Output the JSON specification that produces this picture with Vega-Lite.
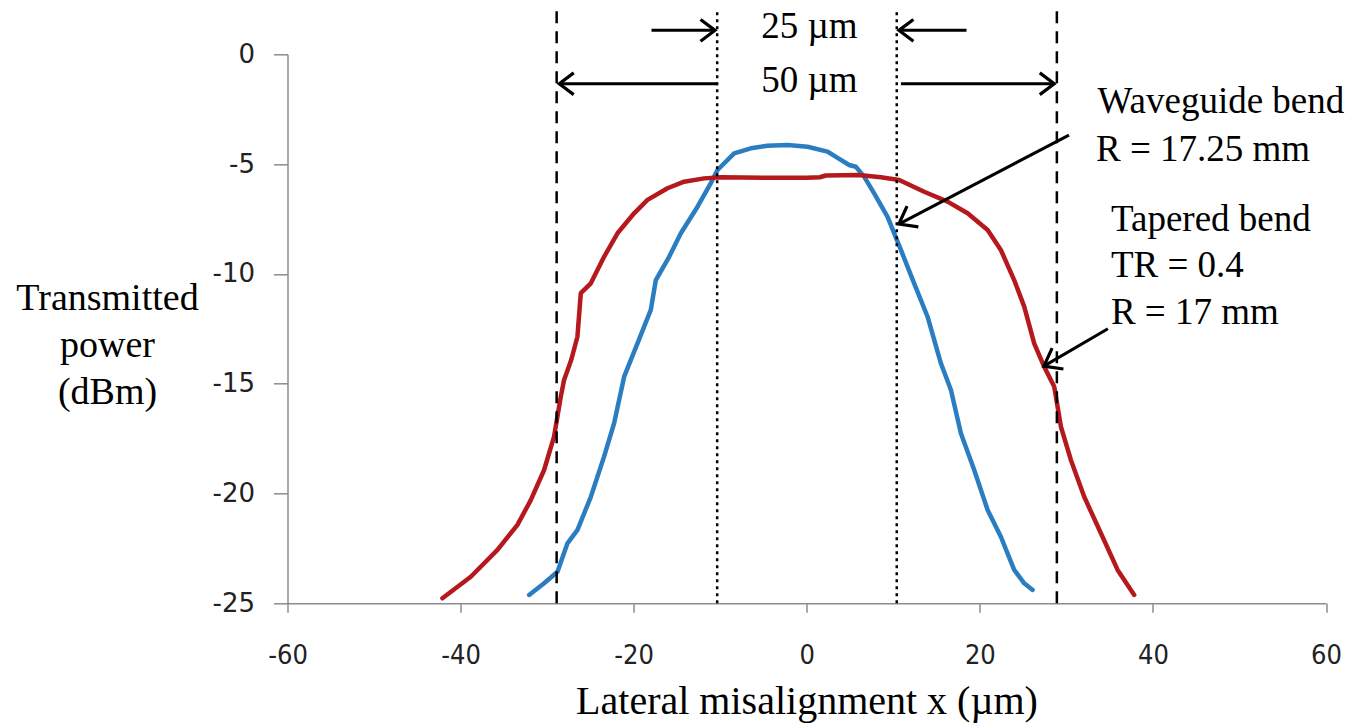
{
  "$schema": "https://vega.github.io/schema/vega-lite/v6.json",
  "autosize": {"type": "none"},
  "padding": {"left": 287.5, "top": 54.3, "right": 35, "bottom": 122.7},
  "width": 1038.5,
  "height": 549,
  "background": "white",
  "config": {
    "view": {"stroke": null},
    "axis": {"titleFont": "Liberation Serif", "titleFontWeight": "normal", "titleColor": "#000"},
    "axisY": {"titleFont": "Liberation Serif", "titleFontSize": 38, "titleFontWeight": "normal"}
  },
  "datasets": {
    "curves": [
      {"series": "Waveguide bend", "x": -32.08, "y": -24.62},
      {"series": "Waveguide bend", "x": -30.35, "y": -24.09},
      {"series": "Waveguide bend", "x": -28.8, "y": -23.56},
      {"series": "Waveguide bend", "x": -27.65, "y": -22.27},
      {"series": "Waveguide bend", "x": -26.49, "y": -21.66},
      {"series": "Waveguide bend", "x": -24.95, "y": -20.15},
      {"series": "Waveguide bend", "x": -23.42, "y": -18.32},
      {"series": "Waveguide bend", "x": -22.26, "y": -16.8},
      {"series": "Waveguide bend", "x": -21.1, "y": -14.68},
      {"series": "Waveguide bend", "x": -19.56, "y": -13.16},
      {"series": "Waveguide bend", "x": -18.02, "y": -11.64},
      {"series": "Waveguide bend", "x": -17.44, "y": -10.28},
      {"series": "Waveguide bend", "x": -15.9, "y": -9.22},
      {"series": "Waveguide bend", "x": -14.55, "y": -8.15},
      {"series": "Waveguide bend", "x": -12.62, "y": -6.94},
      {"series": "Waveguide bend", "x": -11.2, "y": -5.95},
      {"series": "Waveguide bend", "x": -10.31, "y": -5.27},
      {"series": "Waveguide bend", "x": -8.39, "y": -4.51},
      {"series": "Waveguide bend", "x": -6.46, "y": -4.28},
      {"series": "Waveguide bend", "x": -4.53, "y": -4.16},
      {"series": "Waveguide bend", "x": -2.22, "y": -4.13},
      {"series": "Waveguide bend", "x": 0.09, "y": -4.21},
      {"series": "Waveguide bend", "x": 2.4, "y": -4.43},
      {"series": "Waveguide bend", "x": 3.94, "y": -4.81},
      {"series": "Waveguide bend", "x": 4.9, "y": -5.04},
      {"series": "Waveguide bend", "x": 5.67, "y": -5.12},
      {"series": "Waveguide bend", "x": 6.63, "y": -5.57},
      {"series": "Waveguide bend", "x": 7.79, "y": -6.33},
      {"series": "Waveguide bend", "x": 9.34, "y": -7.4},
      {"series": "Waveguide bend", "x": 10.88, "y": -8.91},
      {"series": "Waveguide bend", "x": 12.41, "y": -10.43},
      {"series": "Waveguide bend", "x": 13.96, "y": -11.95},
      {"series": "Waveguide bend", "x": 15.5, "y": -14.07},
      {"series": "Waveguide bend", "x": 16.66, "y": -15.29},
      {"series": "Waveguide bend", "x": 17.81, "y": -17.26},
      {"series": "Waveguide bend", "x": 19.35, "y": -18.93},
      {"series": "Waveguide bend", "x": 20.9, "y": -20.75},
      {"series": "Waveguide bend", "x": 22.43, "y": -21.97},
      {"series": "Waveguide bend", "x": 23.97, "y": -23.48},
      {"series": "Waveguide bend", "x": 25.13, "y": -24.09},
      {"series": "Waveguide bend", "x": 26.1, "y": -24.39},
      {"series": "Tapered bend", "x": -42.1, "y": -24.77},
      {"series": "Tapered bend", "x": -38.82, "y": -23.79},
      {"series": "Tapered bend", "x": -35.74, "y": -22.57},
      {"series": "Tapered bend", "x": -33.43, "y": -21.43},
      {"series": "Tapered bend", "x": -31.89, "y": -20.3},
      {"series": "Tapered bend", "x": -30.35, "y": -18.93},
      {"series": "Tapered bend", "x": -29.2, "y": -17.41},
      {"series": "Tapered bend", "x": -28.42, "y": -15.59},
      {"series": "Tapered bend", "x": -28.04, "y": -14.83},
      {"series": "Tapered bend", "x": -27.2, "y": -13.9},
      {"series": "Tapered bend", "x": -26.5, "y": -12.86},
      {"series": "Tapered bend", "x": -26.11, "y": -10.88},
      {"series": "Tapered bend", "x": -24.95, "y": -10.43},
      {"series": "Tapered bend", "x": -23.42, "y": -9.22},
      {"series": "Tapered bend", "x": -21.87, "y": -8.15},
      {"series": "Tapered bend", "x": -19.95, "y": -7.24},
      {"series": "Tapered bend", "x": -18.4, "y": -6.63},
      {"series": "Tapered bend", "x": -16.09, "y": -6.1},
      {"series": "Tapered bend", "x": -14.17, "y": -5.8},
      {"series": "Tapered bend", "x": -11.86, "y": -5.65},
      {"series": "Tapered bend", "x": -9.93, "y": -5.6},
      {"series": "Tapered bend", "x": -5.0, "y": -5.62},
      {"series": "Tapered bend", "x": 0.0, "y": -5.62},
      {"series": "Tapered bend", "x": 1.5, "y": -5.6},
      {"series": "Tapered bend", "x": 2.2, "y": -5.52},
      {"series": "Tapered bend", "x": 6.0, "y": -5.5},
      {"series": "Tapered bend", "x": 8.56, "y": -5.6},
      {"series": "Tapered bend", "x": 10.68, "y": -5.72},
      {"series": "Tapered bend", "x": 13.57, "y": -6.26},
      {"series": "Tapered bend", "x": 16.27, "y": -6.71},
      {"series": "Tapered bend", "x": 18.59, "y": -7.24},
      {"series": "Tapered bend", "x": 20.9, "y": -8.0},
      {"series": "Tapered bend", "x": 22.43, "y": -8.91},
      {"series": "Tapered bend", "x": 23.97, "y": -10.28},
      {"series": "Tapered bend", "x": 25.13, "y": -11.49},
      {"series": "Tapered bend", "x": 26.28, "y": -13.16},
      {"series": "Tapered bend", "x": 27.44, "y": -14.23},
      {"series": "Tapered bend", "x": 28.6, "y": -15.14},
      {"series": "Tapered bend", "x": 29.37, "y": -16.96},
      {"series": "Tapered bend", "x": 30.52, "y": -18.47},
      {"series": "Tapered bend", "x": 32.06, "y": -20.15},
      {"series": "Tapered bend", "x": 33.99, "y": -21.81},
      {"series": "Tapered bend", "x": 35.92, "y": -23.48},
      {"series": "Tapered bend", "x": 37.84, "y": -24.62}
    ],
    "vlines": [
      {"x": -28.9, "kind": "dashed"},
      {"x": 28.9, "kind": "dashed"},
      {"x": -10.35, "kind": "dotted"},
      {"x": 10.4, "kind": "dotted"}
    ],
    "arrows": [
      {"x1": -17.94, "y1": 1.09, "x2": -10.6, "y2": 1.09, "dir": "right"},
      {"x1": 18.46, "y1": 1.09, "x2": 10.65, "y2": 1.09, "dir": "left"},
      {"x1": -10.33, "y1": -1.34, "x2": -28.6, "y2": -1.34, "dir": "left"},
      {"x1": 10.88, "y1": -1.34, "x2": 28.6, "y2": -1.34, "dir": "right"},
      {"x1": 30.3, "y1": -3.68, "x2": 10.64, "y2": -7.73, "dir": "diag"},
      {"x1": 34.8, "y1": -12.5, "x2": 27.4, "y2": -14.2, "dir": "diag"}
    ],
    "centerText": [
      {"x": 0.3, "y": 0.74, "label": "25 µm"},
      {"x": 0.3, "y": -1.72, "label": "50 µm"}
    ],
    "leftText": [
      {"x": 33.61, "y": -2.69, "label": "Waveguide bend"},
      {"x": 33.42, "y": -4.85, "label": "R = 17.25 mm"},
      {"x": 35.15, "y": -8.03, "label": "Tapered bend"},
      {"x": 35.15, "y": -10.15, "label": "TR = 0.4"},
      {"x": 35.15, "y": -12.28, "label": "R = 17 mm"}
    ]
  },
  "layer": [
    {
      "data": {"name": "curves"},
      "mark": {"type": "line", "strokeWidth": 4.5, "strokeCap": "round", "strokeJoin": "round"},
      "encoding": {
        "x": {
          "field": "x", "type": "quantitative",
          "scale": {"domain": [-60, 60], "nice": false},
          "axis": {
            "values": [-60, -40, -20, 0, 20, 40, 60],
            "labelExpr": "replace(datum.label, '\u2212', '-')",
            "title": "Lateral misalignment x (µm)",
            "grid": false,
            "domainColor": "#8c8c8c", "domainWidth": 1.5,
            "tickColor": "#8c8c8c", "tickWidth": 1.5, "tickSize": 9,
            "labelFont": "Liberation Sans Narrow, DejaVu Sans Condensed, Arial Narrow, sans-serif",
            "labelFontSize": 27, "labelColor": "#222", "labelPadding": 30,
            "labelFlush": false, "labelOverlap": false,
            "titleFont": "Liberation Serif", "titleFontSize": 40, "titleFontWeight": "normal",
            "titleColor": "#000", "titleBaseline": "alphabetic", "titleAlign": "center",
            "titleX": 519, "titleY": 110
          }
        },
        "y": {
          "field": "y", "type": "quantitative",
          "scale": {"domain": [-25, 0], "nice": false},
          "axis": {
            "values": [0, -5, -10, -15, -20, -25],
            "labelExpr": "replace(datum.label, '\u2212', '-')",
            "title": ["Transmitted", "power", "(dBm)"],
            "titleAngle": 0, "titleAlign": "center", "titleBaseline": "middle",
            "titleX": -180.5, "titleY": 243.7, "titleLineHeight": 47,
            "titleFont": "Liberation Serif", "titleFontSize": 38, "titleFontWeight": "normal",
            "titleColor": "#000",
            "grid": false,
            "domainColor": "#8c8c8c", "domainWidth": 1.5,
            "tickColor": "#8c8c8c", "tickWidth": 1.5, "tickSize": 14,
            "labelFont": "DejaVu Sans", "labelFontSize": 26, "labelColor": "#222", "labelPadding": 19
          }
        },
        "color": {
          "field": "series", "type": "nominal",
          "scale": {"domain": ["Waveguide bend", "Tapered bend"], "range": ["#2A7DC1", "#B5191D"]},
          "legend": null
        }
      }
    },
    {
      "data": {"name": "vlines"},
      "mark": {"type": "rule", "color": "black", "strokeWidth": 2.5},
      "encoding": {
        "x": {"field": "x", "type": "quantitative", "scale": {"domain": [-60, 60], "nice": false}},
        "y": {"datum": -25, "type": "quantitative", "scale": {"domain": [-25, 0], "nice": false}},
        "y2": {"datum": 2.06},
        "strokeDash": {
          "field": "kind", "type": "nominal",
          "scale": {"domain": ["dashed", "dotted"], "range": [[12, 8], [3, 4]]},
          "legend": null
        }
      }
    },
    {
      "data": {"name": "arrows"},
      "mark": {"type": "rule", "color": "black", "strokeWidth": 3},
      "encoding": {
        "x": {"field": "x1", "type": "quantitative", "scale": {"domain": [-60, 60], "nice": false}},
        "y": {"field": "y1", "type": "quantitative", "scale": {"domain": [-25, 0], "nice": false}},
        "x2": {"field": "x2"},
        "y2": {"field": "y2"}
      }
    },
    {
      "data": {"name": "arrows"},
      "transform": [{"filter": "datum.dir === 'right'"}],
      "mark": {"type": "point", "shape": "M-1,-0.75L0,0L-1,0.75", "size": 840, "filled": false, "stroke": "black", "strokeWidth": 3.2, "opacity": 1, "angle": 0},
      "encoding": {
        "x": {"field": "x2", "type": "quantitative", "scale": {"domain": [-60, 60], "nice": false}},
        "y": {"field": "y2", "type": "quantitative", "scale": {"domain": [-25, 0], "nice": false}}
      }
    },
    {
      "data": {"name": "arrows"},
      "transform": [{"filter": "datum.dir === 'left'"}],
      "mark": {"type": "point", "shape": "M-1,-0.75L0,0L-1,0.75", "size": 840, "filled": false, "stroke": "black", "strokeWidth": 3.2, "opacity": 1, "angle": 180},
      "encoding": {
        "x": {"field": "x2", "type": "quantitative", "scale": {"domain": [-60, 60], "nice": false}},
        "y": {"field": "y2", "type": "quantitative", "scale": {"domain": [-25, 0], "nice": false}}
      }
    },
    {
      "data": {"name": "arrows"},
      "transform": [{"filter": "datum.dir === 'diag'"}],
      "mark": {"type": "point", "shape": "M-1,-0.75L0,0L-1,0.75", "size": 1000, "filled": false, "stroke": "black", "strokeWidth": 3.2, "opacity": 1, "angle": 151.5},
      "encoding": {
        "x": {"field": "x2", "type": "quantitative", "scale": {"domain": [-60, 60], "nice": false}},
        "y": {"field": "y2", "type": "quantitative", "scale": {"domain": [-25, 0], "nice": false}}
      }
    },
    {
      "data": {"name": "centerText"},
      "mark": {"type": "text", "font": "Liberation Serif", "fontSize": 37, "align": "center", "baseline": "alphabetic", "color": "black"},
      "encoding": {
        "x": {"field": "x", "type": "quantitative", "scale": {"domain": [-60, 60], "nice": false}},
        "y": {"field": "y", "type": "quantitative", "scale": {"domain": [-25, 0], "nice": false}},
        "text": {"field": "label"}
      }
    },
    {
      "data": {"name": "leftText"},
      "mark": {"type": "text", "font": "Liberation Serif", "fontSize": 37, "align": "left", "baseline": "alphabetic", "color": "black"},
      "encoding": {
        "x": {"field": "x", "type": "quantitative", "scale": {"domain": [-60, 60], "nice": false}},
        "y": {"field": "y", "type": "quantitative", "scale": {"domain": [-25, 0], "nice": false}},
        "text": {"field": "label"}
      }
    }
  ]
}
